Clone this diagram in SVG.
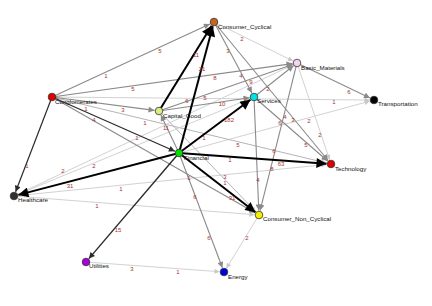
<svg xmlns="http://www.w3.org/2000/svg" width="432" height="306" viewBox="0 0 432 306">
<defs>
<style>
.t{stroke:#000;stroke-width:2;fill:none;marker-end:url(#aT)}
.d{stroke:#2a2a2a;stroke-width:1.2;fill:none;marker-end:url(#aD)}
.g{stroke:#8a8a8a;stroke-width:1.1;fill:none;marker-end:url(#aG)}
.l{stroke:#d2d2d2;stroke-width:1;fill:none;marker-end:url(#aL)}
.m{stroke:#b4b4b4;stroke-width:1;fill:none;marker-end:url(#aL)}
.n{stroke:#333;stroke-width:0.8}
.nl{font-family:"Liberation Sans",Arial,sans-serif;font-size:6.2px;fill:#111}
.el{font-family:"Liberation Sans",Arial,sans-serif;font-size:6px;fill:#a83232;text-anchor:middle}
</style>
<marker id="aT" markerUnits="userSpaceOnUse" viewBox="0 0 10 10" refX="10" refY="5" markerWidth="15" markerHeight="10" orient="auto"><path d="M0,0 L10,5 L0,10 z" fill="#000"/></marker>
<marker id="aD" markerUnits="userSpaceOnUse" viewBox="0 0 10 10" refX="10" refY="5" markerWidth="8" markerHeight="6" orient="auto"><path d="M0,0 L10,5 L0,10 z" fill="#2a2a2a"/></marker>
<marker id="aG" markerUnits="userSpaceOnUse" viewBox="0 0 10 10" refX="10" refY="5" markerWidth="8" markerHeight="6" orient="auto"><path d="M0,0 L10,5 L0,10 z" fill="#8a8a8a"/></marker>
<marker id="aL" markerUnits="userSpaceOnUse" viewBox="0 0 10 10" refX="10" refY="5" markerWidth="7" markerHeight="5" orient="auto"><path d="M0,0 L10,5 L0,10 z" fill="#c8c8c8"/></marker>
</defs>
<rect width="432" height="306" fill="#fff"/>
<g id="connectors">
<line class="l" x1="52" y1="97" x2="369.5" y2="100"/>
<line class="l" x1="179" y1="153" x2="369.7" y2="101.2"/>
<line class="l" x1="214" y1="22" x2="293" y2="61"/>
<line class="l" x1="297" y1="63" x2="329.6" y2="159.7"/>
<line class="m" x1="52" y1="97" x2="326.6" y2="163"/>
<line class="l" x1="14" y1="196" x2="249.8" y2="98.7"/>
<line class="l" x1="14" y1="196" x2="292.9" y2="64.9"/>
<line class="l" x1="14" y1="196" x2="326.5" y2="164.5"/>
<line class="l" x1="14" y1="196" x2="254.5" y2="214.7"/>
<line class="l" x1="86" y1="262" x2="219.5" y2="271.7"/>
<line class="l" x1="259" y1="215" x2="226.4" y2="268.2"/>
<line class="m" x1="159" y1="111" x2="255.9" y2="211.8"/>
<line class="g" x1="52" y1="97" x2="209.9" y2="23.9"/>
<line class="g" x1="52" y1="97" x2="292.5" y2="63.6"/>
<line class="g" x1="159" y1="111" x2="292.7" y2="64.5"/>
<line class="g" x1="159" y1="111" x2="249.5" y2="97.7"/>
<line class="g" x1="52" y1="97" x2="154.5" y2="110.4"/>
<line class="g" x1="214" y1="22" x2="251.9" y2="93"/>
<line class="g" x1="297" y1="63" x2="370" y2="98"/>
<line class="g" x1="254" y1="97" x2="258.8" y2="210.5"/>
<line class="g" x1="297" y1="63" x2="260.1" y2="210.6"/>
<line class="g" x1="179" y1="153" x2="160.9" y2="115.1"/>
<line class="g" x1="179" y1="153" x2="222.4" y2="267.8"/>
<line class="g" x1="254" y1="97" x2="327.6" y2="161"/>
<line class="g" x1="254" y1="97" x2="293.5" y2="65.8"/>
<line class="g" x1="214" y1="22" x2="328.1" y2="160.5"/>
<line class="g" x1="52" y1="97" x2="255.1" y2="212.8"/>
<line class="d" x1="52" y1="97" x2="15.6" y2="191.8"/>
<line class="d" x1="52" y1="97" x2="174.9" y2="151.2"/>
<line class="d" x1="179" y1="153" x2="88.9" y2="258.6" style="stroke-width:1.4"/>
<line class="t" x1="159" y1="111" x2="211.6" y2="25.8"/>
<line class="t" x1="179" y1="153" x2="212.8" y2="26.3"/>
<line class="t" x1="179" y1="153" x2="250.4" y2="99.7"/>
<line class="t" x1="179" y1="153" x2="326.5" y2="163.7"/>
<line class="t" x1="179" y1="153" x2="18.4" y2="194.9"/>
<line class="t" x1="179" y1="153" x2="255.4" y2="212.2"/>
</g>
<g id="edge-labels">
<text class="el" x="106" y="78">1</text>
<text class="el" x="160" y="53">5</text>
<text class="el" x="242" y="41">2</text>
<text class="el" x="196" y="57">11</text>
<text class="el" x="202" y="71">21</text>
<text class="el" x="228" y="53">3</text>
<text class="el" x="215" y="80">8</text>
<text class="el" x="241" y="78">4</text>
<text class="el" x="251" y="84">9</text>
<text class="el" x="268" y="91">2</text>
<text class="el" x="133" y="91">5</text>
<text class="el" x="187" y="103">6</text>
<text class="el" x="205" y="100">5</text>
<text class="el" x="222" y="106">10</text>
<text class="el" x="229" y="122">182</text>
<text class="el" x="349" y="94">6</text>
<text class="el" x="334" y="104">1</text>
<text class="el" x="285" y="119">4</text>
<text class="el" x="293" y="122">3</text>
<text class="el" x="309" y="123">2</text>
<text class="el" x="280" y="125">6</text>
<text class="el" x="320" y="137">2</text>
<text class="el" x="306" y="147">5</text>
<text class="el" x="274" y="153">6</text>
<text class="el" x="281" y="166">63</text>
<text class="el" x="272" y="171">8</text>
<text class="el" x="258" y="182">4</text>
<text class="el" x="123" y="112">3</text>
<text class="el" x="86" y="111">1</text>
<text class="el" x="94" y="122">4</text>
<text class="el" x="145" y="125">1</text>
<text class="el" x="166" y="130">11</text>
<text class="el" x="137" y="140">1</text>
<text class="el" x="204" y="140">1</text>
<text class="el" x="238" y="147">5</text>
<text class="el" x="230" y="162">1</text>
<text class="el" x="27" y="168">1</text>
<text class="el" x="63" y="173">2</text>
<text class="el" x="94" y="168">2</text>
<text class="el" x="70" y="188">31</text>
<text class="el" x="121" y="191">1</text>
<text class="el" x="189" y="180">1</text>
<text class="el" x="225" y="179">3</text>
<text class="el" x="225" y="185">1</text>
<text class="el" x="195" y="199">6</text>
<text class="el" x="232" y="200">31</text>
<text class="el" x="97" y="208">1</text>
<text class="el" x="118" y="232">15</text>
<text class="el" x="209" y="240">6</text>
<text class="el" x="247" y="240">2</text>
<text class="el" x="132" y="271">3</text>
<text class="el" x="178" y="274">1</text>
</g>
<g id="Consumer_Cyclical"><circle class="n" cx="214" cy="22" r="3.8" fill="#c8641e"/><text class="nl" x="218" y="28.5">Consumer_Cyclical</text></g>
<g id="Basic_Materials"><circle class="n" cx="297" cy="63" r="3.8" fill="#f4d4f0"/><text class="nl" x="301" y="69.5">Basic_Materials</text></g>
<g id="Transportation"><circle class="n" cx="374" cy="100" r="3.8" fill="#000"/><text class="nl" x="378" y="105.5">Transportation</text></g>
<g id="Conglomerates"><circle class="n" cx="52" cy="97" r="3.8" fill="#e00000"/><text class="nl" x="55" y="104">Conglomerates</text></g>
<g id="Capital_Good"><circle class="n" cx="159" cy="111" r="3.8" fill="#d4f084"/><text class="nl" x="163" y="117.5">Capital_Good</text></g>
<g id="Services"><circle class="n" cx="254" cy="97" r="3.8" fill="#00e4e4"/><text class="nl" x="257" y="103">Services</text></g>
<g id="Financial"><circle class="n" cx="179" cy="153" r="3.8" fill="#00e000"/><text class="nl" x="184" y="160">Financial</text></g>
<g id="Technology"><circle class="n" cx="331" cy="164" r="3.8" fill="#e00000"/><text class="nl" x="335" y="170.5">Technology</text></g>
<g id="Healthcare"><circle class="n" cx="14" cy="196" r="3.8" fill="#303030"/><text class="nl" x="18" y="201.5">Healthcare</text></g>
<g id="Consumer_Non_Cyclical"><circle class="n" cx="259" cy="215" r="3.8" fill="#f4f000"/><text class="nl" x="263" y="220.5">Consumer_Non_Cyclical</text></g>
<g id="Utilities"><circle class="n" cx="86" cy="262" r="3.8" fill="#a800e0"/><text class="nl" x="89" y="268">Utilities</text></g>
<g id="Energy"><circle class="n" cx="224" cy="272" r="3.8" fill="#0000e0"/><text class="nl" x="228" y="279">Energy</text></g>
</svg>
